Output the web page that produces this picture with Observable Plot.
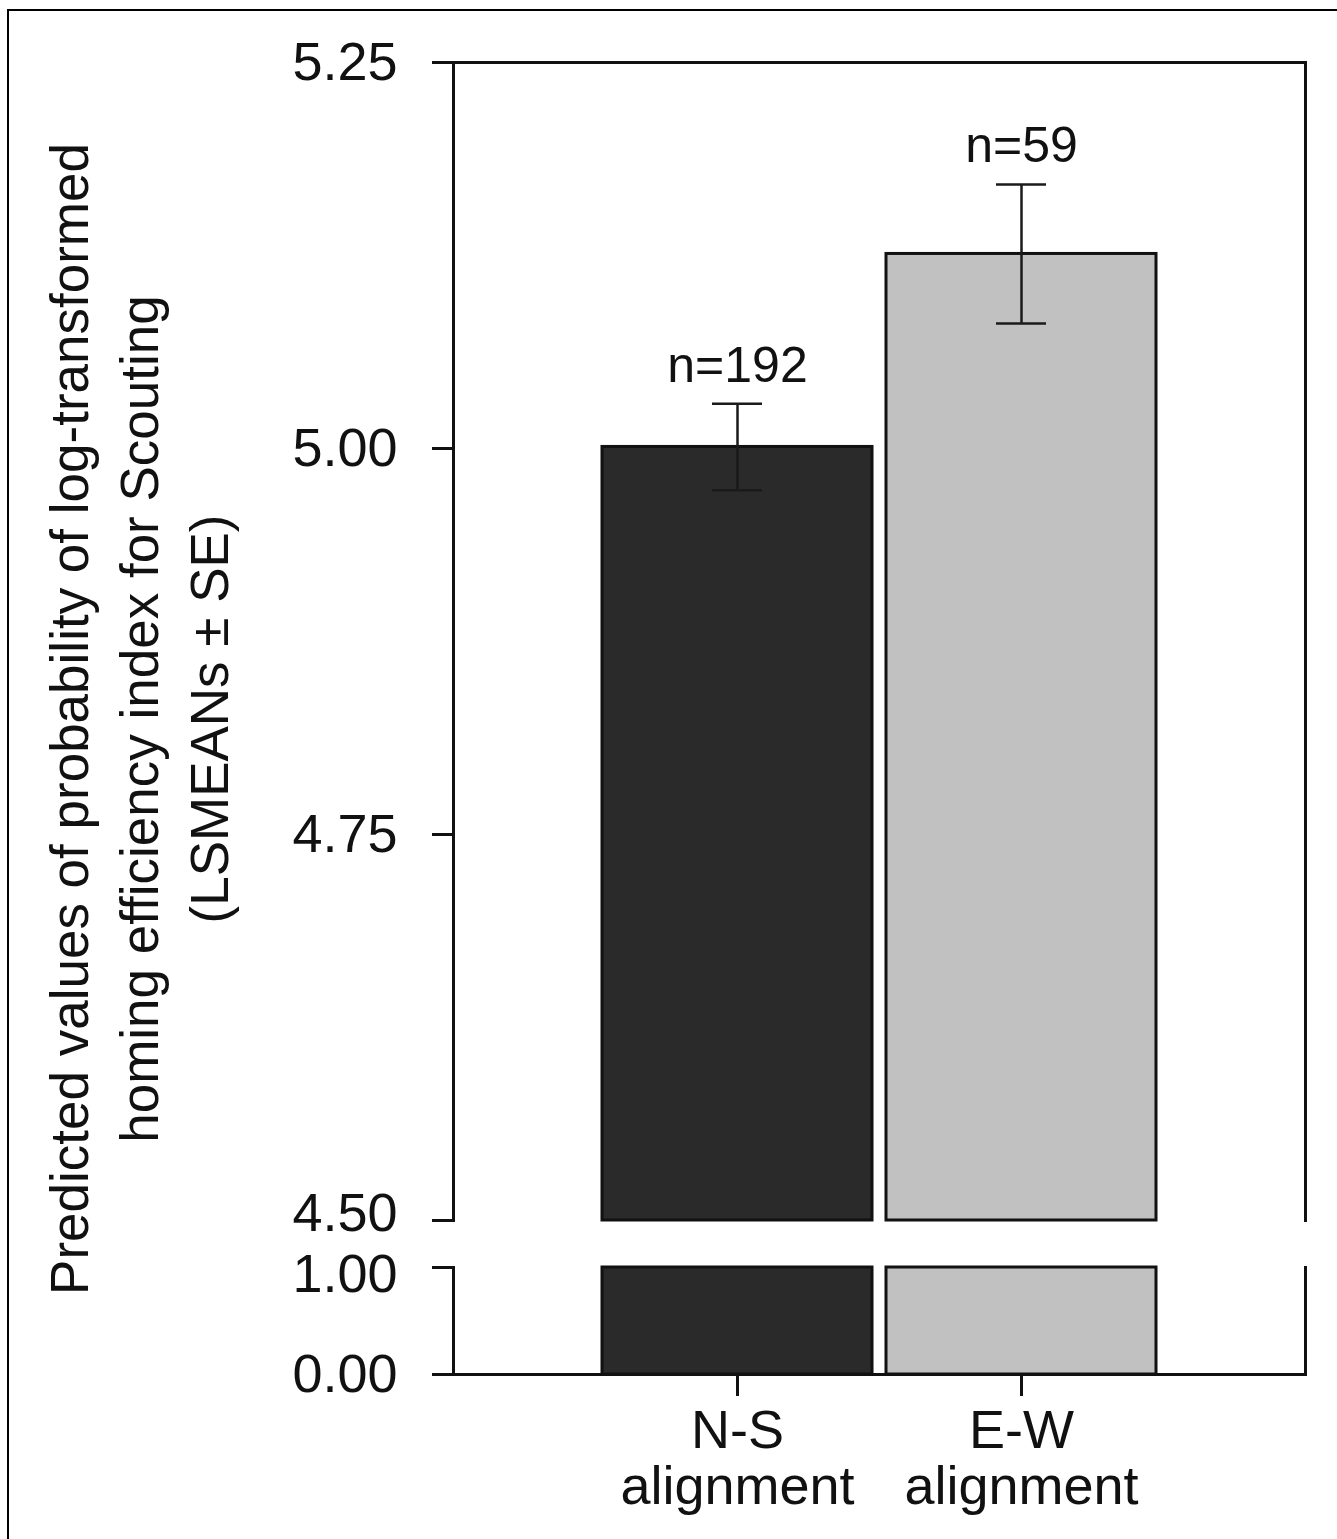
<!DOCTYPE html>
<html><head><meta charset="utf-8">
<script src="https://cdn.jsdelivr.net/npm/d3@7"></script>
<script src="https://cdn.jsdelivr.net/npm/@observablehq/plot@0.6"></script>
<style>
html,body{margin:0;padding:0;background:#fff;}
body{width:1337px;height:1539px;overflow:hidden;position:relative;font-family:"Liberation Sans",Arial,sans-serif;}
#border{position:absolute;left:7px;top:9px;right:-10px;bottom:-10px;border-top:2px solid #000;border-left:2px solid #000;pointer-events:none;}
#upper{position:absolute;left:0;top:0;}
#lower{position:absolute;left:0;top:1232px;}
#ylabel{position:absolute;width:1300px;height:210px;left:-510px;top:614px;transform:rotate(-90deg);transform-origin:50% 50%;
  text-align:center;font-size:53px;line-height:70px;color:#111;white-space:nowrap;}
</style></head>
<body>
<div id="upper"></div>
<div id="lower"></div>
<div id="ylabel">Predicted values of probability of log-transformed<br>homing efficiency index for Scouting<br>(LSMEANs ± SE)</div>
<div id="border"></div>
<script>
// ---- data ----
const categories = ["N-S", "E-W"];
const tickLabels = ["N-S\nalignment", "E-W\nalignment"];
const means = [5.001, 5.126];
const se = [0.028, 0.045];
const counts = [192, 59];
const upperTicks = [4.50, 4.75, 5.00, 5.25];
const lowerTicks = [0.00, 1.00];
const upperDomain = [4.50, 5.25];
const lowerDomain = [0.00, 1.00];
const barColors = ["#2a2a2a", "#c1c1c1"];

const rows = categories.map((c, i) => ({cat: c, mean: means[i], lo: means[i] - se[i], hi: means[i] + se[i], n: "n=" + counts[i]}));
const fmt = d3.format(".2f");
const labelOf = Object.fromEntries(categories.map((c, i) => [c, tickLabels[i]]));
const tickFont = 54;
// tick lines only
const tickStyle = {tickFormat: () => "", tickSize: 21, strokeWidth: 3, label: null};
// tick labels only (no tick line), may be nudged apart near the break
const textStyle = {tickFormat: fmt, tickSize: 0, tickPadding: 56, fontSize: tickFont, label: null};

const common = {
  width: 1337,
  marginLeft: 453,
  marginRight: 32,
  style: {background: "transparent", fontFamily: "'Liberation Sans', Arial, sans-serif", color: "#111", overflow: "visible"},
  x: {domain: categories, paddingInner: 0.05, paddingOuter: 0.525, axis: null},
  color: {domain: categories, range: barColors}
};

const upper = Plot.plot({
  ...common,
  height: 1232,
  marginTop: 62,
  marginBottom: 12,
  y: {domain: upperDomain, ticks: upperTicks, axis: null},
  marks: [
    Plot.barY(rows, {x: "cat", y1: upperDomain[0], y2: "mean", fill: "cat", stroke: "#111", strokeWidth: 3}),
    Plot.ruleX(rows, {x: "cat", y1: "lo", y2: "hi", stroke: "#1a1a1a", strokeWidth: 2.5}),
    Plot.tickY(rows, {x: "cat", y: "lo", stroke: "#1a1a1a", strokeWidth: 2.5, insetLeft: 110, insetRight: 110}),
    Plot.tickY(rows, {x: "cat", y: "hi", stroke: "#1a1a1a", strokeWidth: 2.5, insetLeft: 110, insetRight: 110}),
    Plot.text(rows, {x: "cat", y: "hi", text: "n", dy: -38, fontSize: 50, fill: "#111"}),
    Plot.frame({anchor: "left", stroke: "#111", strokeWidth: 3}),
    Plot.frame({anchor: "top", stroke: "#111", strokeWidth: 3}),
    Plot.frame({anchor: "right", stroke: "#111", strokeWidth: 3}),
    Plot.axisY({...tickStyle, ticks: upperTicks}),
    Plot.axisY({...textStyle, ticks: upperTicks.slice(1)}),
    Plot.axisY({...textStyle, ticks: upperTicks.slice(0, 1), dy: -7})
  ]
});
document.getElementById("upper").append(upper);

const lower = Plot.plot({
  ...common,
  height: 307,
  marginTop: 35,
  marginBottom: 165,
  y: {domain: lowerDomain, ticks: lowerTicks, axis: null},
  marks: [
    Plot.barY(rows, {x: "cat", y1: lowerDomain[0], y2: lowerDomain[1], fill: "cat", stroke: "#111", strokeWidth: 3}),
    Plot.frame({anchor: "left", stroke: "#111", strokeWidth: 3}),
    Plot.frame({anchor: "bottom", stroke: "#111", strokeWidth: 3}),
    Plot.frame({anchor: "right", stroke: "#111", strokeWidth: 3}),
    Plot.axisY({...tickStyle, ticks: lowerTicks}),
    Plot.axisY({...textStyle, ticks: lowerTicks.slice(0, 1)}),
    Plot.axisY({...textStyle, ticks: lowerTicks.slice(1), dy: 7}),
    Plot.axisX({tickFormat: d => labelOf[d], tickSize: 22, tickPadding: 12, fontSize: 54, lineHeight: 1.03, strokeWidth: 3, label: null})
  ]
});
document.getElementById("lower").append(lower);
</script>
</body></html>
